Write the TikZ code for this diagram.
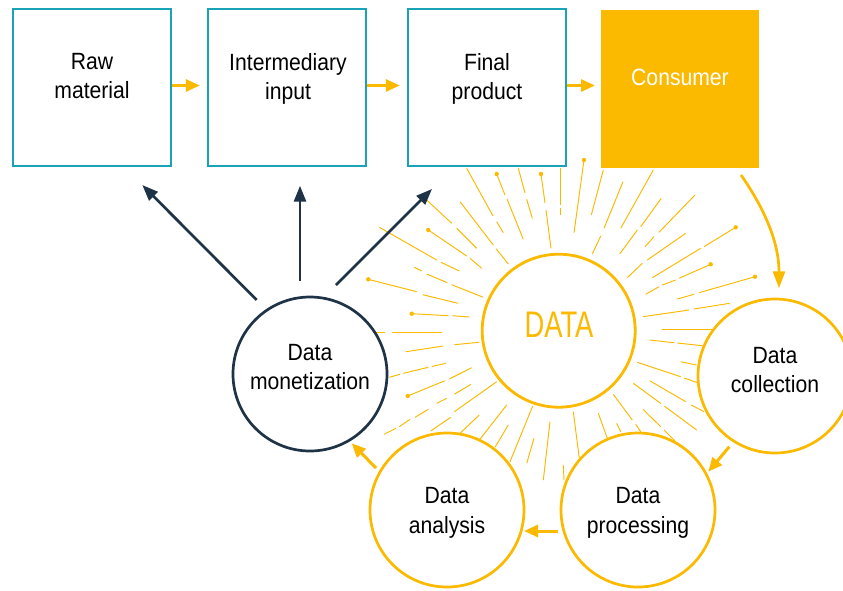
\documentclass[tikz,border=0pt]{standalone}
\usepackage{fontspec}
\setmainfont{Liberation Sans}[FakeStretch=0.9]
\newfontfamily\datafont{Liberation Sans}[FakeStretch=0.74]
\usetikzlibrary{arrows.meta}
\definecolor{myteal}{HTML}{1AA3B6}
\definecolor{myorange}{HTML}{FBB900}
\definecolor{mynavy}{HTML}{1F3347}
\tikzset{
  box/.style={draw=myteal, line width=2.3pt, fill=white, minimum width=158pt, minimum height=157pt, inner sep=0pt},
  consbox/.style={fill=myorange, draw=none, minimum width=158pt, minimum height=158pt, inner sep=0pt, outer sep=0pt},
  lbl/.style={anchor=north, align=center, inner sep=0pt, font=\fontsize{23.5}{29.5}\selectfont},
  ocirc/.style={circle, draw=myorange, line width=2.7pt, fill=white, minimum size=154pt, inner sep=0pt},
  ncirc/.style={circle, draw=mynavy, line width=2.7pt, fill=white, minimum size=154pt, inner sep=0pt},
  ray/.style={draw=myorange, line width=0.95pt},
  oarrow/.style={draw=myorange, line width=3pt, -{Triangle[length=14pt,width=12pt]}},
  narrow/.style={draw=mynavy, line width=2.7pt, -{Triangle[length=16pt,width=12pt]}}
}
\begin{document}
\begin{tikzpicture}[x=1pt,y=-1pt]
\useasboundingbox (0,0) rectangle (843,590);
% rays
\foreach \xa/\ya/\xb/\yb in {
 466.7/168.3/493/216, 496.7/221.7/503.3/232.7,
 496.7/174/505/195, 507/199/523.3/239.3,
 518.3/168.3/525/193, 526.7/199.3/532.3/218.3,
 541/174/545/203, 546/210/551/248.3,
 426.7/200/451.7/223.3, 456.7/228.3/476.7/248.3,
 460/201.7/493.3/245, 496/248.7/508.3/264,
 428.3/230/466.7/256, 470/258.3/481.7/268.3,
 379.3/227.3/436.7/260, 441/262.3/459.3/271,
 414.3/267.3/421.7/271, 426.7/274/447.3/282.7, 451.7/284.7/483.3/297.3,
 368.3/279.3/416.7/291.7, 422.7/294.7/458.3/303.3,
 411.7/313.7/448.3/315.7, 452.3/315.7/469.3/317,
 375/332/385/332, 391.7/332/441.7/332,
 406/351.7/443.3/346, 454.3/344.7/479/342.3,
 389.3/377.3/400/374.3, 403.3/373.3/428.3/367.3, 431.7/366.5/446/363.3,
 407.7/396/445/380.7, 449.3/379/471.7/367.7,
 384/434.3/396/428.3, 399.3/426.7/410/419.3, 415/417.3/428.3/409.3, 436.7/403.3/446.7/398.3, 454.3/394.3/471/384.3,
 430.7/431/450.7/417.3, 454.3/411.7/496.7/381.7,
 460/433.3/479.3/415,
 479.3/440/506.7/405,
 495/447.3/508.3/425,
 510/461.7/532.7/406,
 526.7/463.3/534/438.3,
 543.3/480/550/421.7,
 563.3/465/564/480,
 573.3/411.7/579.3/458.3,
 598.3/413.3/607.3/438.3,
 616.7/423.3/620.7/431.7,
 613.3/394.3/632.3/420,
 635.7/424.3/640.7/431.7,
 643/409.3/660.7/426.7, 664/430/675.7/441.7,
 633.3/383.3/661/403.6, 664.5/406.2/696.7/430,
 649.7/380.7/685.7/401.7, 691.3/405/704/411.7,
 637.3/362.3/680.7/376.7, 684/378/697/382.5,
 680.7/361.7/696.3/365,
 649.7/340/674/342.7, 677.3/343/702.3/345.7,
 661.7/329/711.7/329,
 643/316.7/689/310, 694/309/729.7/303.3,
 677.3/299/694/294.3, 699/292.7/755/276.7,
 645.7/294.3/659/286.7, 662.3/285/675.7/280, 679/278.3/710.7/264.3,
 652.3/277.7/700.7/248.3, 704/246.7/735.7/227.3,
 627.3/277.7/642.3/263.3, 647.3/260/685.7/233.3,
 645/246.7/654/236.7, 659/232.3/695/195,
 619.7/254/637.3/230, 640.7/226.7/661.3/198.3,
 620.7/228.3/653.3/170,
 592.3/254/600.7/236, 604/228.3/623/181.7,
 591.3/215/603.3/170,
 574/232.7/584/160,
 560.7/168.3/560.7/205, 560.7/208.3/560.7/215}
 {\draw[ray] (\xa,\ya) -- (\xb,\yb);}
\foreach \xd/\yd in {496.7/174, 541/174, 428.3/230, 368.3/279.3, 411.7/313.7, 407.7/396, 584/160, 735.7/227.3, 710.7/264.3, 755/276.7}
 {\fill[myorange] (\xd,\yd) circle (2.2);}
% boxes
\node[box] (raw) at (92,87.5) {};
\node[box] (inter) at (287,87.5) {};
\node[box] (final) at (487,87.5) {};
\node[consbox] (cons) at (680,89) {};
\node[lbl] (rawt) at (92,53) {Raw\\material};
\node[lbl] (intert) at (288,53) {Intermediary\\input};
\node[lbl] (finalt) at (487,53) {Final\\product};
\node[lbl, text=white] (const) at (680,69) {Consumer};
% circles
\node[circle, draw=myorange, line width=2.8pt, fill=white, minimum size=153pt, inner sep=0pt] (data) at (558.7,330.7) {};
\node[anchor=north, inner sep=0pt, text=myorange, font=\datafont\fontsize{37}{40}\selectfont] (datat) at (559,312) {DATA};
\node[ncirc] (mon) at (310,374) {};
\node[ocirc] (coll) at (775,376) {};
\node[ocirc] (proc) at (638,510) {};
\node[ocirc] (ana) at (447,510) {};
\node[lbl] (mont) at (310,344) {Data\\monetization};
\node[lbl] (collt) at (775,347) {Data\\collection};
\node[lbl] (proct) at (638,487.3) {Data\\processing};
\node[lbl] (anat) at (447,487.3) {Data\\analysis};
% orange arrows between boxes
\draw[oarrow, shorten >=7pt] ([yshift=2pt]raw.east) -- ([yshift=2pt]inter.west);
\draw[oarrow, shorten >=7pt] ([yshift=2pt]inter.east) -- ([yshift=2pt]final.west);
\draw[oarrow, shorten >=6pt] ([yshift=2pt]final.east) -- ([yshift=3.5pt]cons.west);
% cycle arrows
\coordinate (c1s) at (741,175);
\coordinate (c1e) at (779,288.3);
\draw[draw=myorange, line width=2.7pt, -{Triangle[length=17pt,width=12pt]}] (c1s) .. controls (762,205) and (779,240) .. (c1e);
\coordinate (c2s) at (729.3,446.7);
\coordinate (c2e) at (708.3,471.7);
\draw[oarrow] (c2s) -- (c2e);
\coordinate (c3s) at (558,531);
\coordinate (c3e) at (524,531);
\draw[oarrow] (c3s) -- (c3e);
\coordinate (c4s) at (376,468);
\coordinate (c4e) at (351.7,443.3);
\draw[oarrow] (c4s) -- (c4e);
% navy arrows
\coordinate (n1s) at (256.7,300);
\coordinate (n1e) at (142.3,185);
\coordinate (n2s) at (300,281);
\coordinate (n2e) at (300,185.7);
\coordinate (n3s) at (336,285);
\coordinate (n3e) at (432,189);
\draw[narrow] (n1s) -- (n1e);
\draw[narrow] (n2s) -- (n2e);
\draw[narrow] (n3s) -- (n3e);
\end{tikzpicture}
\end{document}
